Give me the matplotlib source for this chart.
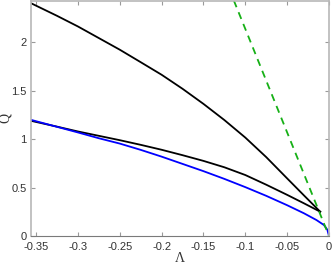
import matplotlib
matplotlib.use("Agg")
import matplotlib.pyplot as plt

# Upper black branch
upper_x = [-0.356, -0.325, -0.30, -0.275, -0.25, -0.225, -0.20, -0.175, -0.15,
           -0.125, -0.10, -0.075, -0.05, -0.03, -0.0105]
upper_q = [2.405, 2.275, 2.165, 2.045, 1.925, 1.796, 1.666, 1.521, 1.365,
           1.198, 1.017, 0.815, 0.595, 0.42, 0.251]

# Lower black branch
lower_x = [-0.356, -0.325, -0.30, -0.275, -0.25, -0.225, -0.20, -0.175, -0.15,
           -0.125, -0.10, -0.075, -0.05, -0.03, -0.0105]
lower_q = [1.19, 1.13, 1.08, 1.035, 0.99, 0.942, 0.891, 0.835, 0.776,
           0.71, 0.63, 0.53, 0.425, 0.338, 0.251]

# Blue curve
blue_x = [-0.356, -0.325, -0.30, -0.275, -0.25, -0.225, -0.20, -0.175, -0.15,
          -0.125, -0.10, -0.075, -0.05, -0.03, -0.015, -0.006, -0.002, 0.0]
blue_q = [1.20, 1.128, 1.07, 1.01, 0.955, 0.89, 0.82, 0.745, 0.67,
          0.59, 0.505, 0.415, 0.318, 0.235, 0.165, 0.113, 0.065, 0.0]

# Green dashed line
green_x = [-0.1137, 0.0]
green_q = [2.433, 0.0]

xticks = [-0.35, -0.3, -0.25, -0.2, -0.15, -0.1, -0.05, 0]
xticklabels = ["-0.35", "-0.3", "-0.25", "-0.2", "-0.15", "-0.1", "-0.05", "0"]
yticks = [0, 0.5, 1, 1.5, 2]
yticklabels = ["0", "0.5", "1", "1.5", "2"]

plt.rcParams['font.family'] = ['Liberation Sans', 'DejaVu Sans']

fig = plt.figure(figsize=(3.32, 2.64), dpi=100)
ax = fig.add_axes([31/332, 1 - 236/264, (329-31)/332, (236-0.5)/264])

ax.plot(upper_x, upper_q, color='black', lw=1.3)
ax.plot(lower_x, lower_q, color='black', lw=1.3)
ax.plot(blue_x, blue_q, color='#0000ff', lw=1.3)
ax.plot(green_x, green_q, color='#16b016', lw=1.3, ls=(0, (4, 3)))

ax.set_xlim(-0.356, 0)
ax.set_ylim(0, 2.433)
ax.set_xticks(xticks)
ax.set_xticklabels(xticklabels)
ax.set_yticks(yticks)
ax.set_yticklabels(yticklabels)

for s in ax.spines.values():
    s.set_color('#b8b8b8')
    s.set_linewidth(1.2)
ax.spines['bottom'].set_color('#7a7a7a')
ax.spines['bottom'].set_linewidth(0.8)

ax.tick_params(direction='in', top=True, right=True, length=3, width=0.8,
               colors='#9a9a9a', labelcolor='#333333', labelsize=8)
ax.tick_params(axis='x', pad=4)
ax.tick_params(axis='y', pad=3)

ax.set_xlabel('Λ', family=['Liberation Serif', 'DejaVu Serif'], fontsize=10, color='#333333', labelpad=0)
ax.set_ylabel('Q', family=['Liberation Serif', 'DejaVu Serif'], fontsize=10, color='#333333', labelpad=-0.5)

fig.savefig('out.png', dpi=100)
